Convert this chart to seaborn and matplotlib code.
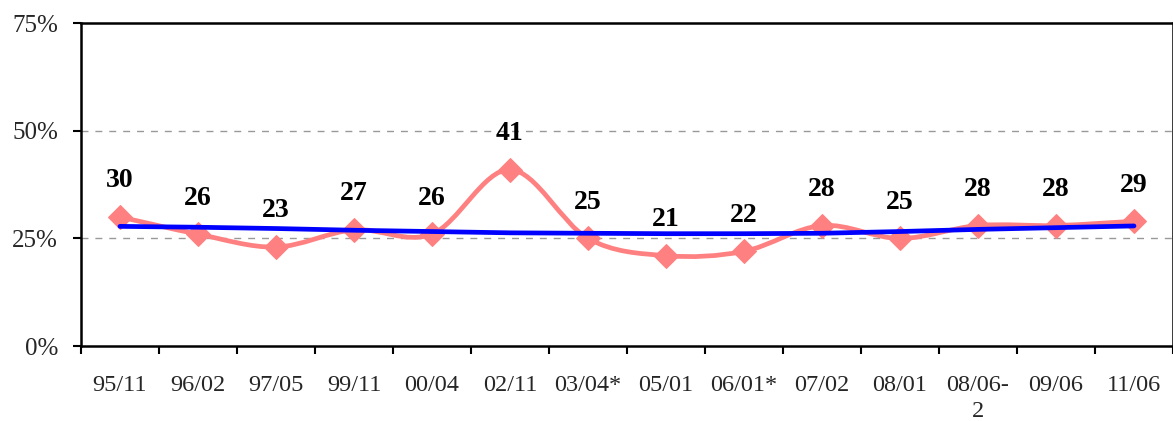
import numpy as np
import pandas as pd
import matplotlib
matplotlib.use("Agg")
import matplotlib.pyplot as plt
import seaborn as sns
from matplotlib.path import Path
from matplotlib.patches import PathPatch

categories = ["95/11", "96/02", "97/05", "99/11", "00/04", "02/11", "03/04*",
              "05/01", "06/01*", "07/02", "08/01", "08/06-\n2", "09/06", "11/06"]
values = [30, 26, 23, 27, 26, 41, 25, 21, 22, 28, 25, 28, 28, 29]
trend = [27.8, 27.6, 27.3, 26.9, 26.6, 26.3, 26.2, 26.1, 26.1, 26.2, 26.6, 27.1, 27.5, 27.9]
ytick_vals = [0, 25, 50, 75]
ytick_labels = ["0%", "25%", "50%", "75%"]

sns.set_theme(style="white")
plt.rcParams["font.family"] = ["Liberation Serif", "DejaVu Serif"]

fig = plt.figure(figsize=(11.73, 4.21), dpi=100)
ax = fig.add_axes([0.069, 0.178, 0.931, 0.767])

df = pd.DataFrame({"x": np.arange(len(categories)), "v": values, "t": trend})

# smoothed pink curve (Bezier through the data points)
pts = df[["x", "v"]].to_numpy(dtype=float)
n = len(pts)
verts = [tuple(pts[0])]
codes = [Path.MOVETO]
for i in range(n - 1):
    p0 = pts[i - 1] if i > 0 else pts[i]
    p1 = pts[i]
    p2 = pts[i + 1]
    p3 = pts[i + 2] if i + 2 < n else pts[i + 1]
    c1 = p1 + (p2 - p0) / 6.0
    c2 = p2 - (p3 - p1) / 6.0
    verts += [tuple(c1), tuple(c2), tuple(p2)]
    codes += [Path.CURVE4] * 3
pink = "#FF8080"
ax.add_patch(PathPatch(Path(verts, codes), facecolor="none", edgecolor=pink,
                       lw=3.4, transform=ax.transData, zorder=3, capstyle="round"))

sns.lineplot(data=df, x="x", y="v", ax=ax, linestyle="", marker="D", markersize=12.5,
             color=pink, markeredgecolor=pink, zorder=4)
sns.lineplot(data=df, x="x", y="t", ax=ax, color="#0000FF", lw=3.4, zorder=5)

for x, v in zip(df["x"], values):
    ax.annotate(f"{v}", (x, v), xytext=(0, 26), textcoords="offset points",
                ha="center", va="center", fontsize=20, fontweight="bold", color="black")

ax.set_xlim(-0.5, len(categories) - 0.5)
ax.set_ylim(0, 75)
ax.set_xticks(df["x"])
ax.set_xticklabels(categories, fontsize=17.5, linespacing=1.3, va="top")
ax.set_xticks(np.arange(-0.5, len(categories), 1.0), minor=True)
ax.tick_params(axis="x", which="major", length=0, pad=21)
ax.tick_params(axis="x", which="minor", length=6, width=1.5, color="black", direction="out", bottom=True)
ax.set_yticks(ytick_vals)
ax.set_yticklabels(ytick_labels, fontsize=18)
ax.tick_params(axis="y", length=5.5, width=1.5, color="black", direction="out", left=True, pad=11)
for y in [25, 50]:
    ax.axhline(y, color="#999999", lw=1.0, ls=(0, (5, 5)), zorder=1)
for s in ["left", "bottom", "top", "right"]:
    ax.spines[s].set_color("black")
    ax.spines[s].set_linewidth(1.8)
ax.set_xlabel("")
ax.set_ylabel("")
ax.grid(False)

fig.savefig("out.png", dpi=100)
